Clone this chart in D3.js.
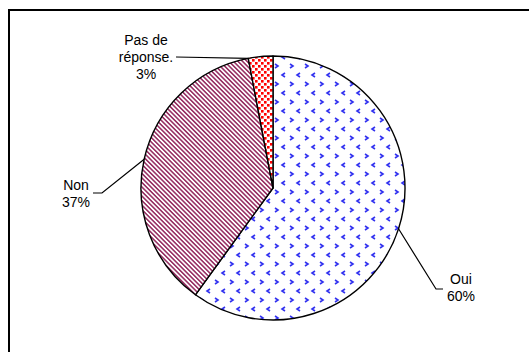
<!DOCTYPE html>
<html>
<head>
<meta charset="utf-8">
<script src="https://cdn.jsdelivr.net/npm/d3@7"></script>
<style>
  body { margin: 0; background: #fff; }
  text { font-family: "Liberation Sans", Arial, sans-serif; font-size: 14px; fill: #000; }
</style>
</head>
<body>
<div id="chart"></div>
<script>
// data
var categories = ["Oui", "Non", "Pas de réponse."];
var values = [60, 37, 3];
var pctLabels = ["60%", "37%", "3%"];

var width = 529, height = 352;
var cx = 273, cy = 188, radius = 132;

var svg = d3.select("#chart").append("svg")
  .attr("width", width)
  .attr("height", height);

var defs = svg.append("defs");

// blue chevrons for "Oui"
var pOui = defs.append("pattern")
  .attr("id", "pat-oui")
  .attr("patternUnits", "userSpaceOnUse")
  .attr("width", 15).attr("height", 18);
pOui.append("rect").attr("width", 15).attr("height", 18).attr("fill", "#fff");
pOui.append("path").attr("d", "M2,2 L5,4 L2,6")
  .attr("fill", "none").attr("stroke", "#3030f0").attr("stroke-width", 1.6);
pOui.append("path").attr("d", "M12,11 L9,13 L12,15")
  .attr("fill", "none").attr("stroke", "#3030f0").attr("stroke-width", 1.6);

// plum diagonal stripes for "Non"
var pNon = defs.append("pattern")
  .attr("id", "pat-non")
  .attr("patternUnits", "userSpaceOnUse")
  .attr("width", 3.2).attr("height", 10)
  .attr("patternTransform", "rotate(-45)");
pNon.append("rect").attr("width", 3.2).attr("height", 10).attr("fill", "#fff");
pNon.append("rect").attr("width", 1.6).attr("height", 10).attr("fill", "#993366");

// red dots for "Pas de réponse"
var pPas = defs.append("pattern")
  .attr("id", "pat-pas")
  .attr("patternUnits", "userSpaceOnUse")
  .attr("width", 6).attr("height", 6);
pPas.append("rect").attr("width", 6).attr("height", 6).attr("fill", "#fff");
pPas.append("rect").attr("x", 0).attr("y", 0).attr("width", 2.6).attr("height", 2.6).attr("fill", "#ff0000");
pPas.append("rect").attr("x", 3).attr("y", 3).attr("width", 2.6).attr("height", 2.6).attr("fill", "#ff0000");

var fills = ["url(#pat-oui)", "url(#pat-non)", "url(#pat-pas)"];

// frame (runs off the right and bottom of the picture)
svg.append("rect")
  .attr("x", 9).attr("y", 10)
  .attr("width", 600).attr("height", 400)
  .attr("fill", "none")
  .attr("stroke", "#000")
  .attr("stroke-width", 2);

var pie = d3.pie().sort(null).value(function (d) { return d; });
var arcs = pie(values);
var arc = d3.arc().innerRadius(0).outerRadius(radius);

var g = svg.append("g")
  .attr("transform", "translate(" + cx + "," + cy + ")");

g.selectAll(".slice")
  .data(arcs)
  .enter().append("path")
  .attr("class", "slice")
  .attr("d", arc)
  .attr("fill", function (d, i) { return fills[i]; })
  .attr("stroke", "#000")
  .attr("stroke-width", 1.4)
  .attr("stroke-linejoin", "round");

// labels, placed where the reference puts them
var labels = [
  { lines: [categories[0], pctLabels[0]], x: 461, y: 284, anchorFrac: 0.5, pts: [[436, 289], [443, 289]] },
  { lines: [categories[1], pctLabels[1]], x: 76, y: 190, anchorFrac: 0.5, pts: [[102, 193], [93, 193]] },
  { lines: ["Pas de", "réponse.", pctLabels[2]], x: 146, y: 45, anchorFrac: 0.0, pts: [[176, 57]] }
];

function edgePoint(d, frac) {
  var a = d.startAngle + (d.endAngle - d.startAngle) * frac;
  return [cx + radius * Math.sin(a), cy - radius * Math.cos(a)];
}

labels.forEach(function (l, i) {
  var pts = [edgePoint(arcs[i], l.anchorFrac)].concat(l.pts);
  svg.append("path")
    .attr("d", d3.line()(pts))
    .attr("fill", "none")
    .attr("stroke", "#000")
    .attr("stroke-width", 1.2);

  var t = svg.append("text")
    .attr("text-anchor", "middle");
  l.lines.forEach(function (s, k) {
    t.append("tspan")
      .attr("x", l.x)
      .attr("y", l.y + k * 17)
      .text(s);
  });
});
</script>
</body>
</html>
